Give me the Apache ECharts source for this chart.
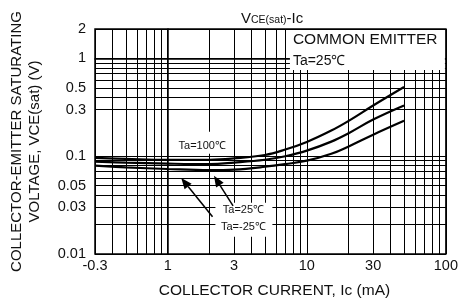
<!DOCTYPE html>
<html>
<head>
<meta charset="utf-8">
<script src="https://cdn.jsdelivr.net/npm/echarts@6/dist/echarts.min.js"></script>
<style>
  html, body { margin: 0; padding: 0; background: #fff; }
  #main { width: 461px; height: 306px; }
</style>
</head>
<body>
<div id="main"></div>
<script>
// collector current Ic (mA)
var current = [0.3, 0.5, 1, 2, 3, 5, 7, 10, 15, 20, 30, 50];
// VCE(sat) (V)
var vce100 = [0.096, 0.094, 0.092, 0.092, 0.095, 0.103, 0.117, 0.140, 0.183, 0.230, 0.33, 0.51];
var vce25 = [0.088, 0.086, 0.084, 0.083, 0.086, 0.092, 0.100, 0.114, 0.141, 0.172, 0.237, 0.33];
var vceM25 = [0.080, 0.077, 0.074, 0.072, 0.073, 0.078, 0.083, 0.090, 0.106, 0.126, 0.166, 0.23];

var xLabelValues = [0.3, 1, 3, 10, 30, 100];
var xLabelTexts = ['-0.3', '1', '3', '10', '30', '100'];
var yLabelValues = [0.01, 0.03, 0.05, 0.1, 0.3, 0.5, 1, 2];
var yLabelTexts = ['0.01', '0.03', '0.05', '0.1', '0.3', '0.5', '1', '2'];

var xGridValues = [0.3, 0.4, 0.5, 0.6, 0.7, 0.8, 0.9, 1, 2, 3, 4, 5, 6, 7, 8, 9, 10, 20, 30, 40, 50, 60, 70, 80, 90, 100];
var yGridValues = [0.01, 0.02, 0.03, 0.04, 0.05, 0.06, 0.07, 0.08, 0.09, 0.1, 0.3, 0.4, 0.5, 0.6, 0.7, 0.8, 0.9, 1, 2];

var FONT = 'Liberation Sans, Arial, sans-serif';

function lg(v) { return Math.log10(v); }
function pairs(xs, ys) {
  return xs.map(function (x, i) { return [lg(x), lg(ys[i])]; });
}
function labelFor(values, texts) {
  return function (v) {
    for (var i = 0; i < values.length; i++) {
      if (Math.abs(lg(values[i]) - v) < 1e-6) return texts[i];
    }
    return '';
  };
}
function curve(name, ys) {
  return {
    name: name,
    type: 'line',
    data: pairs(current, ys),
    smooth: 0.4,
    showSymbol: false,
    symbol: 'none',
    lineStyle: { color: '#000', width: 2.2 },
    z: 5
  };
}

var chart = echarts.init(document.getElementById('main'));

var option = {
  animation: false,
  backgroundColor: '#fff',
  title: {
    text: '{v|V}{s|CE(sat)}{v|-Ic}',
    left: 236,
    top: 3,
    textStyle: {
      fontWeight: 'normal',
      rich: {
        v: { fontSize: 15, fontWeight: 'normal', fontFamily: FONT, color: '#111', verticalAlign: 'bottom', lineHeight: 18 },
        s: { fontSize: 10.5, fontWeight: 'normal', fontFamily: FONT, color: '#111', verticalAlign: 'bottom', lineHeight: 16 }
      }
    }
  },
  grid: {
    left: 92, right: 12, top: 29, bottom: 52,
    show: true, borderColor: '#000', borderWidth: 1.5
  },
  xAxis: {
    type: 'value',
    min: lg(0.3),
    max: lg(100),
    name: 'COLLECTOR CURRENT, Ic (mA)',
    nameLocation: 'middle',
    nameGap: 29,
    nameTextStyle: { fontSize: 15.5, fontFamily: FONT, color: '#111', padding: [0, 0, 0, 8] },
    axisLine: { show: true, lineStyle: { color: '#000', width: 1.5 } },
    axisTick: { show: false, customValues: xGridValues.map(lg) },
    splitLine: { show: true, lineStyle: { color: '#000', width: 1 } },
    axisLabel: {
      customValues: xLabelValues.map(lg),
      formatter: labelFor(xLabelValues, xLabelTexts),
      fontSize: 14.5, fontFamily: FONT, color: '#111', margin: 4
    }
  },
  yAxis: {
    type: 'value',
    min: lg(0.01),
    max: lg(2),
    name: 'COLLECTOR-EMITTER SATURATING\nVOLTAGE, VCE(sat) (V)',
    nameLocation: 'middle',
    nameRotate: 90,
    nameGap: 51,
    nameTextStyle: { fontSize: 15, lineHeight: 18, fontFamily: FONT, color: '#111' },
    axisLine: { show: true, lineStyle: { color: '#000', width: 1.5 } },
    axisTick: { show: false, customValues: yGridValues.map(lg) },
    splitLine: { show: true, lineStyle: { color: '#000', width: 1 } },
    axisLabel: {
      customValues: yLabelValues.map(lg),
      formatter: labelFor(yLabelValues, yLabelTexts),
      fontSize: 14.5, fontFamily: FONT, color: '#111', margin: 9
    }
  },
  series: [
    curve('Ta=100℃', vce100),
    curve('Ta=25℃', vce25),
    curve('Ta=-25℃', vceM25)
  ]
};

chart.setOption(option);

// annotations, anchored in data space
function px(x, y) { return chart.convertToPixel({ gridIndex: 0 }, [lg(x), lg(y)]); }

function arrow(from, to) {
  var dx = to[0] - from[0], dy = to[1] - from[1];
  var len = Math.sqrt(dx * dx + dy * dy);
  var ux = dx / len, uy = dy / len, hl = 11, hw = 4.5;
  var bx = to[0] - ux * hl, by = to[1] - uy * hl;
  return [
    { type: 'line', z: 120, shape: { x1: from[0], y1: from[1], x2: bx, y2: by }, style: { stroke: '#000', lineWidth: 1.5 } },
    { type: 'polygon', z: 120, shape: { points: [to, [bx - uy * hw, by + ux * hw], [bx + uy * hw, by - ux * hw]] }, style: { fill: '#000' } }
  ];
}

var corner = px(100, 2);
var t100 = px(1.77, 0.128);
var box = px(3.5, 0.023);

var graphics = [
  // top right note
  { type: 'rect', z: 110, shape: { x: corner[0] - 156, y: corner[1] + 1, width: 155, height: 40 }, style: { fill: '#fff' } },
  { type: 'text', z: 111, x: corner[0] - 153, y: corner[1] + 11, style: { text: 'COMMON EMITTER', font: '15.5px ' + FONT, fill: '#111', textVerticalAlign: 'middle' } },
  { type: 'text', z: 111, x: corner[0] - 153, y: corner[1] + 32, style: { text: 'Ta=25℃', font: '14px ' + FONT, fill: '#111', textVerticalAlign: 'middle' } },
  // Ta=100 label
  { type: 'rect', z: 110, shape: { x: t100[0] - 25, y: t100[1] - 14, width: 50, height: 22 }, style: { fill: '#fff' } },
  { type: 'text', z: 111, x: t100[0], y: t100[1], style: { text: 'Ta=100℃', font: '11px ' + FONT, fill: '#111', textAlign: 'center', textVerticalAlign: 'middle' } },
  // Ta=25 / Ta=-25 labels
  { type: 'rect', z: 110, shape: { x: box[0] - 28, y: box[1] - 16, width: 57, height: 34 }, style: { fill: '#fff' } },
  { type: 'text', z: 111, x: box[0], y: box[1] - 9, style: { text: 'Ta=25℃', font: '11px ' + FONT, fill: '#111', textAlign: 'center', textVerticalAlign: 'middle' } },
  { type: 'text', z: 111, x: box[0], y: box[1] + 8, style: { text: 'Ta=-25℃', font: '11px ' + FONT, fill: '#111', textAlign: 'center', textVerticalAlign: 'middle' } }
];
graphics = graphics
  .concat(arrow(px(2.1, 0.024), px(1.25, 0.06)))
  .concat(arrow(px(2.95, 0.031), px(2.15, 0.063)));

chart.setOption({ graphic: graphics });
</script>
</body>
</html>
